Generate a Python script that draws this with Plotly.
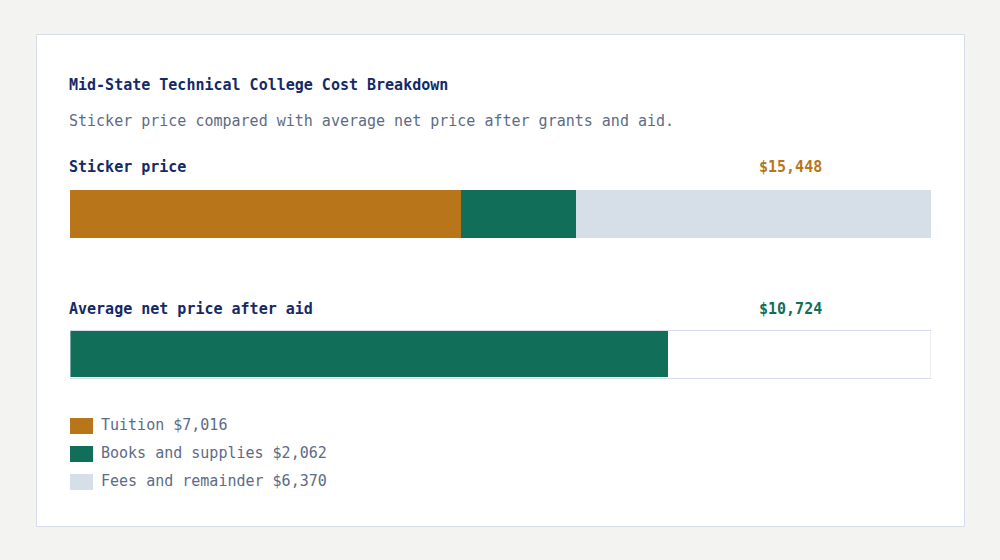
import plotly.graph_objects as go

W, H = 1000, 560

title = "Mid-State Technical College Cost Breakdown"
subtitle = "Sticker price compared with average net price after grants and aid."
components = ["Tuition", "Books and supplies", "Fees and remainder"]
component_values = [7016, 2062, 6370]
component_colors = ["#b97519", "#116e59", "#d6dee7"]
net_label = "Average net price after aid"
net_value = 10724
sticker_label = "Sticker price"

sticker_total = sum(component_values)
FONT = "DejaVu Sans Mono"
NAVY = "#132a66"
GREY = "#5d6b86"

def px(x):
    return x / W

def py(y):
    return 1 - y / H

fig = go.Figure()

for name, val, col in zip(components, component_values, component_colors):
    fig.add_trace(go.Bar(
        orientation="h", y=[214], x=[val], width=48, name=name,
        marker=dict(color=col, line=dict(width=0)), showlegend=False,
        hoverinfo="skip"))

# net price bar (separate stack position)
fig.add_trace(go.Bar(
    orientation="h", y=[354], x=[net_value], width=46, base=[0],
    marker=dict(color=component_colors[1], line=dict(width=0)),
    showlegend=False, hoverinfo="skip"))

shapes = [
    # page card
    dict(type="rect", xref="paper", yref="paper", x0=px(36.5), x1=px(964.5),
         y0=py(34.5), y1=py(526.5), fillcolor="white",
         line=dict(color="#d7dde8", width=1), layer="below"),
    # outline of net price track
    dict(type="rect", xref="x", yref="y", x0=0, x1=sticker_total,
         y0=330.5, y1=378.5, fillcolor="rgba(0,0,0,0)",
         line=dict(color="#d7dde8", width=1), layer="above"),
]

annotations = [
    dict(text=f"<b>{title}</b>", x=px(67), y=py(85), font=dict(size=15, color=NAVY)),
    dict(text=subtitle, x=px(67), y=py(121), font=dict(size=15, color=GREY)),
    dict(text=f"<b>{sticker_label}</b>", x=px(67), y=py(167), font=dict(size=15, color=NAVY)),
    dict(text=f"<b>${sticker_total:,}</b>", x=px(824), y=py(167), xanchor="right",
         font=dict(size=15, color=component_colors[0])),
    dict(text=f"<b>{net_label}</b>", x=px(67), y=py(309), font=dict(size=15, color=NAVY)),
    dict(text=f"<b>${net_value:,}</b>", x=px(824), y=py(309), xanchor="right",
         font=dict(size=15, color=component_colors[1])),
]
for a in annotations:
    a.setdefault("xanchor", "left")
    a.update(xref="paper", yref="paper", yanchor="middle", showarrow=False)

for i, (name, val, col) in enumerate(zip(components, component_values, component_colors)):
    yc = 426 + 28 * i
    shapes.append(dict(type="rect", xref="paper", yref="paper",
                       x0=px(70), x1=px(93), y0=py(yc - 8), y1=py(yc + 8),
                       fillcolor=col, line=dict(width=0)))
    annotations.append(dict(text=f"{name} ${val:,}", xref="paper", yref="paper",
                            x=px(99), y=py(yc - 1), xanchor="left", yanchor="middle",
                            showarrow=False, font=dict(size=15, color=GREY)))

fig.update_layout(
    width=W, height=H, autosize=False,
    margin=dict(l=0, r=0, t=0, b=0),
    paper_bgcolor="#f3f3f1", plot_bgcolor="rgba(0,0,0,0)",
    barmode="stack", bargap=0,
    font=dict(family=FONT, size=15, color=GREY),
    xaxis=dict(domain=[px(70), px(931)], range=[0, sticker_total], visible=False, fixedrange=True),
    yaxis=dict(domain=[0, 1], range=[H, 0], visible=False, fixedrange=True),
    shapes=shapes, annotations=annotations, showlegend=False,
)

fig.write_html("out.html", config={"displayModeBar": False})
